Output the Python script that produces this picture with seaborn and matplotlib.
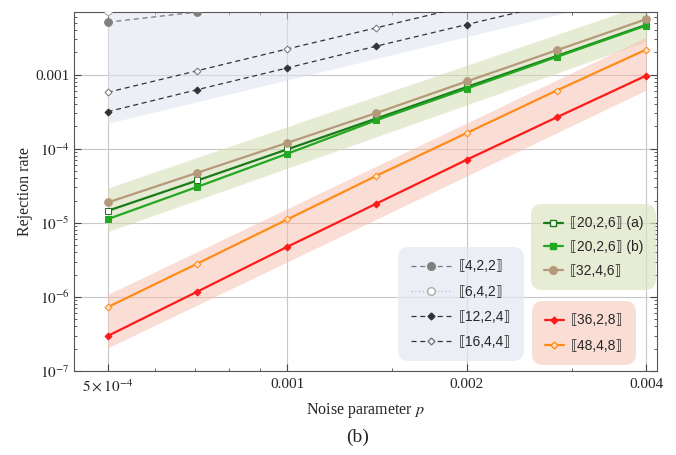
import numpy as np
import pandas as pd
import matplotlib
matplotlib.use("Agg")
import matplotlib.pyplot as plt
import seaborn as sns
from matplotlib.lines import Line2D
from matplotlib.ticker import FixedLocator, FixedFormatter, NullFormatter

# ---------------- data ----------------
p = [5e-4, 7.07e-4, 1e-3, 1.41e-3, 2e-3, 2.83e-3, 4e-3]

rate_4_2_2 = [5.1e-3, 7.0e-3, 9.5e-3]
rate_6_4_2 = [7.3e-3, 1.2e-2]
rate_12_2_4 = [3.16e-4, 6.27e-4, 1.23e-3, 2.42e-3, 4.74e-3, 9.2e-3]
rate_16_4_4 = [5.77e-4, 1.13e-3, 2.22e-3, 4.28e-3, 8.4e-3]
rate_20_2_6_a = [1.45e-5, 3.73e-5, 9.8e-5, 2.55e-4, 6.8e-4, 1.78e-3, 4.7e-3]
rate_20_2_6_b = [1.12e-5, 3.06e-5, 8.55e-5, 2.42e-4, 6.47e-4, 1.73e-3, 4.6e-3]
rate_32_4_6 = [1.88e-5, 4.74e-5, 1.2e-4, 3.03e-4, 8.1e-4, 2.13e-3, 5.6e-3]
rate_36_2_8 = [2.97e-7, 1.18e-6, 4.74e-6, 1.81e-5, 7.1e-5, 2.65e-4, 9.7e-4]
rate_48_4_8 = [7.27e-7, 2.82e-6, 1.11e-5, 4.3e-5, 1.63e-4, 6.1e-4, 2.18e-3]

band_p = [5e-4, 4e-3]
band_gray_lo = [2.2e-4, 1.25e-2]
band_gray_hi = [1.0, 1.0]
band_green_lo = [7.6e-6, 2.8e-3]
band_green_hi = [2.95e-5, 9.0e-3]
band_red_lo = [2.05e-7, 6.2e-4]
band_red_hi = [1.08e-6, 3.2e-3]

labels_gray = ["⟦4,2,2⟧", "⟦6,4,2⟧", "⟦12,2,4⟧", "⟦16,4,4⟧"]
labels_green = ["⟦20,2,6⟧ (a)", "⟦20,2,6⟧ (b)", "⟦32,4,6⟧"]
labels_red = ["⟦36,2,8⟧", "⟦48,4,8⟧"]

xtick_vals = [5e-4, 1e-3, 2e-3, 4e-3]
xtick_labels = [r"$5\times10^{-4}$", "0.001", "0.002", "0.004"]
xminor_vals = [6e-4, 7e-4, 8e-4, 9e-4, 1.5e-3, 3e-3]
ytick_vals = [1e-7, 1e-6, 1e-5, 1e-4, 1e-3]
ytick_labels = [r"$10^{-7}$", r"$10^{-6}$", r"$10^{-5}$", r"$10^{-4}$", "0.001"]

# ---------------- style ----------------
sns.set_style("ticks")
plt.rcParams["font.family"] = ["Liberation Serif", "DejaVu Serif"]
plt.rcParams["mathtext.fontset"] = "stix"

W, H = 676, 455
fig = plt.figure(figsize=(W / 100, H / 100), dpi=100)
ax = fig.add_axes([74 / W, 1 - 371 / H, (657 - 74) / W, (371 - 12) / H])
ax.set_xscale("log")
ax.set_yscale("log")
ax.set_xlim(4.39e-4, 4.17e-3)
ax.set_ylim(1e-7, 7.0e-3)

# bands
ax.fill_between(band_p, band_gray_lo, band_gray_hi, color="#dde3ee", alpha=0.55, lw=0, zorder=1)
ax.fill_between(band_p, band_green_lo, band_green_hi, color="#d3dcb0", alpha=0.55, lw=0, zorder=1)
ax.fill_between(band_p, band_red_lo, band_red_hi, color="#f6bcaa", alpha=0.5, lw=0, zorder=1)

styles = {
    "gray422": dict(color="#777777", lw=0.9, linestyle=(0, (4, 3)), marker="o", ms=5.5,
                    mfc="#7f7f7f", mec="#7f7f7f"),
    "gray642": dict(color="#bbbbbb", lw=0.9, linestyle=(0, (1, 2)), marker="o", ms=5.5,
                    mfc="white", mec="#aaaaaa"),
    "d1224": dict(color="#333333", lw=0.9, linestyle=(0, (4, 3)), marker="D", ms=3.5,
                  mfc="#333333", mec="#333333"),
    "d1644": dict(color="#333333", lw=0.9, linestyle=(0, (4, 3)), marker="D", ms=3.5,
                  mfc="white", mec="#777777"),
    "g_a": dict(color="#1a7a1a", lw=1.6, linestyle="-", marker="s", ms=4,
                mfc="white", mec="#1a7a1a"),
    "g_b": dict(color="#22a822", lw=1.6, linestyle="-", marker="s", ms=4,
                mfc="#22a822", mec="#22a822"),
    "tan": dict(color="#b49a7a", lw=1.6, linestyle="-", marker="o", ms=5.5,
                mfc="#b49a7a", mec="#b49a7a"),
    "red": dict(color="#ff1a1a", lw=1.6, linestyle="-", marker="D", ms=3.5,
                mfc="#ff1a1a", mec="#ff1a1a"),
    "orange": dict(color="#ff8c1a", lw=1.6, linestyle="-", marker="D", ms=3.5,
                   mfc="#ffe2c4", mec="#ff8c1a"),
}

series = [
    ("gray422", rate_4_2_2), ("gray642", rate_6_4_2), ("d1224", rate_12_2_4), ("d1644", rate_16_4_4),
    ("g_a", rate_20_2_6_a), ("g_b", rate_20_2_6_b), ("tan", rate_32_4_6),
    ("red", rate_36_2_8), ("orange", rate_48_4_8),
]
for key, vals in series:
    df = pd.DataFrame({"p": p[:len(vals)], "rate": vals})
    sns.lineplot(data=df, x="p", y="rate", ax=ax, legend=False, sort=False,
                 estimator=None, zorder=3, **styles[key])

# ticks & grid
ax.xaxis.set_major_locator(FixedLocator(xtick_vals))
ax.xaxis.set_major_formatter(FixedFormatter(xtick_labels))
ax.xaxis.set_minor_locator(FixedLocator(xminor_vals))
ax.xaxis.set_minor_formatter(NullFormatter())
ax.yaxis.set_major_locator(FixedLocator(ytick_vals))
ax.yaxis.set_major_formatter(FixedFormatter(ytick_labels))
minor_y = [m * 10.0 ** e for e in range(-7, -2) for m in range(2, 10)]
ax.yaxis.set_minor_locator(FixedLocator(minor_y))
ax.yaxis.set_minor_formatter(NullFormatter())
ax.tick_params(which="both", direction="in", top=True, right=True, color="#444444",
               labelsize=11)
ax.tick_params(axis="y", which="major", pad=3)
ax.tick_params(axis="x", which="major", pad=5)
ax.tick_params(which="major", length=5, width=0.8)
ax.tick_params(which="minor", length=2.5, width=0.6)
ax.grid(True, which="major", color="#c8c8c8", lw=0.8)
ax.set_axisbelow(True)
for s in ax.spines.values():
    s.set_color("#555555")
    s.set_linewidth(0.8)

ax.set_xlabel("Noise parameter $p$", fontsize=11.5, labelpad=5)
ax.set_ylabel("Rejection rate", fontsize=11.5, labelpad=2)
fig.text(358 / W, 1 - 437 / H, "(b)", ha="center", va="center", fontsize=14)

# legends
def handle(key):
    st = dict(styles[key])
    return Line2D([], [], **st)

legprop = dict(family=["Liberation Sans", "DejaVu Sans"], size=10)

def make_legend(keys, labels, x0, y0, face, hl, ls, htp):
    leg = ax.legend([handle(k) for k in keys], labels, loc="upper left",
                    bbox_to_anchor=(x0 / W, 1 - y0 / H), bbox_transform=fig.transFigure,
                    prop=legprop, frameon=True, fancybox=True, facecolor=face,
                    edgecolor="none", framealpha=0.7, handlelength=hl, handletextpad=htp,
                    labelspacing=ls, borderpad=0.9, borderaxespad=0)
    leg.get_frame().set_boxstyle("round", pad=0, rounding_size=0.8)
    leg.set_zorder(5)
    return leg

leg1 = make_legend(["gray422", "gray642", "d1224", "d1644"], labels_gray, 398, 247,
                   "#e3e8f1", 3.0, 0.8, 0.5)
ax.add_artist(leg1)
leg2 = make_legend(["g_a", "g_b", "tan"], labels_green, 531, 204, "#dde4c4", 1.4, 0.7, 0.5)
ax.add_artist(leg2)
leg3 = make_legend(["red", "orange"], labels_red, 532, 301, "#f8cfc2", 1.4, 0.8, 0.5)

fig.savefig("out.png", dpi=100)
